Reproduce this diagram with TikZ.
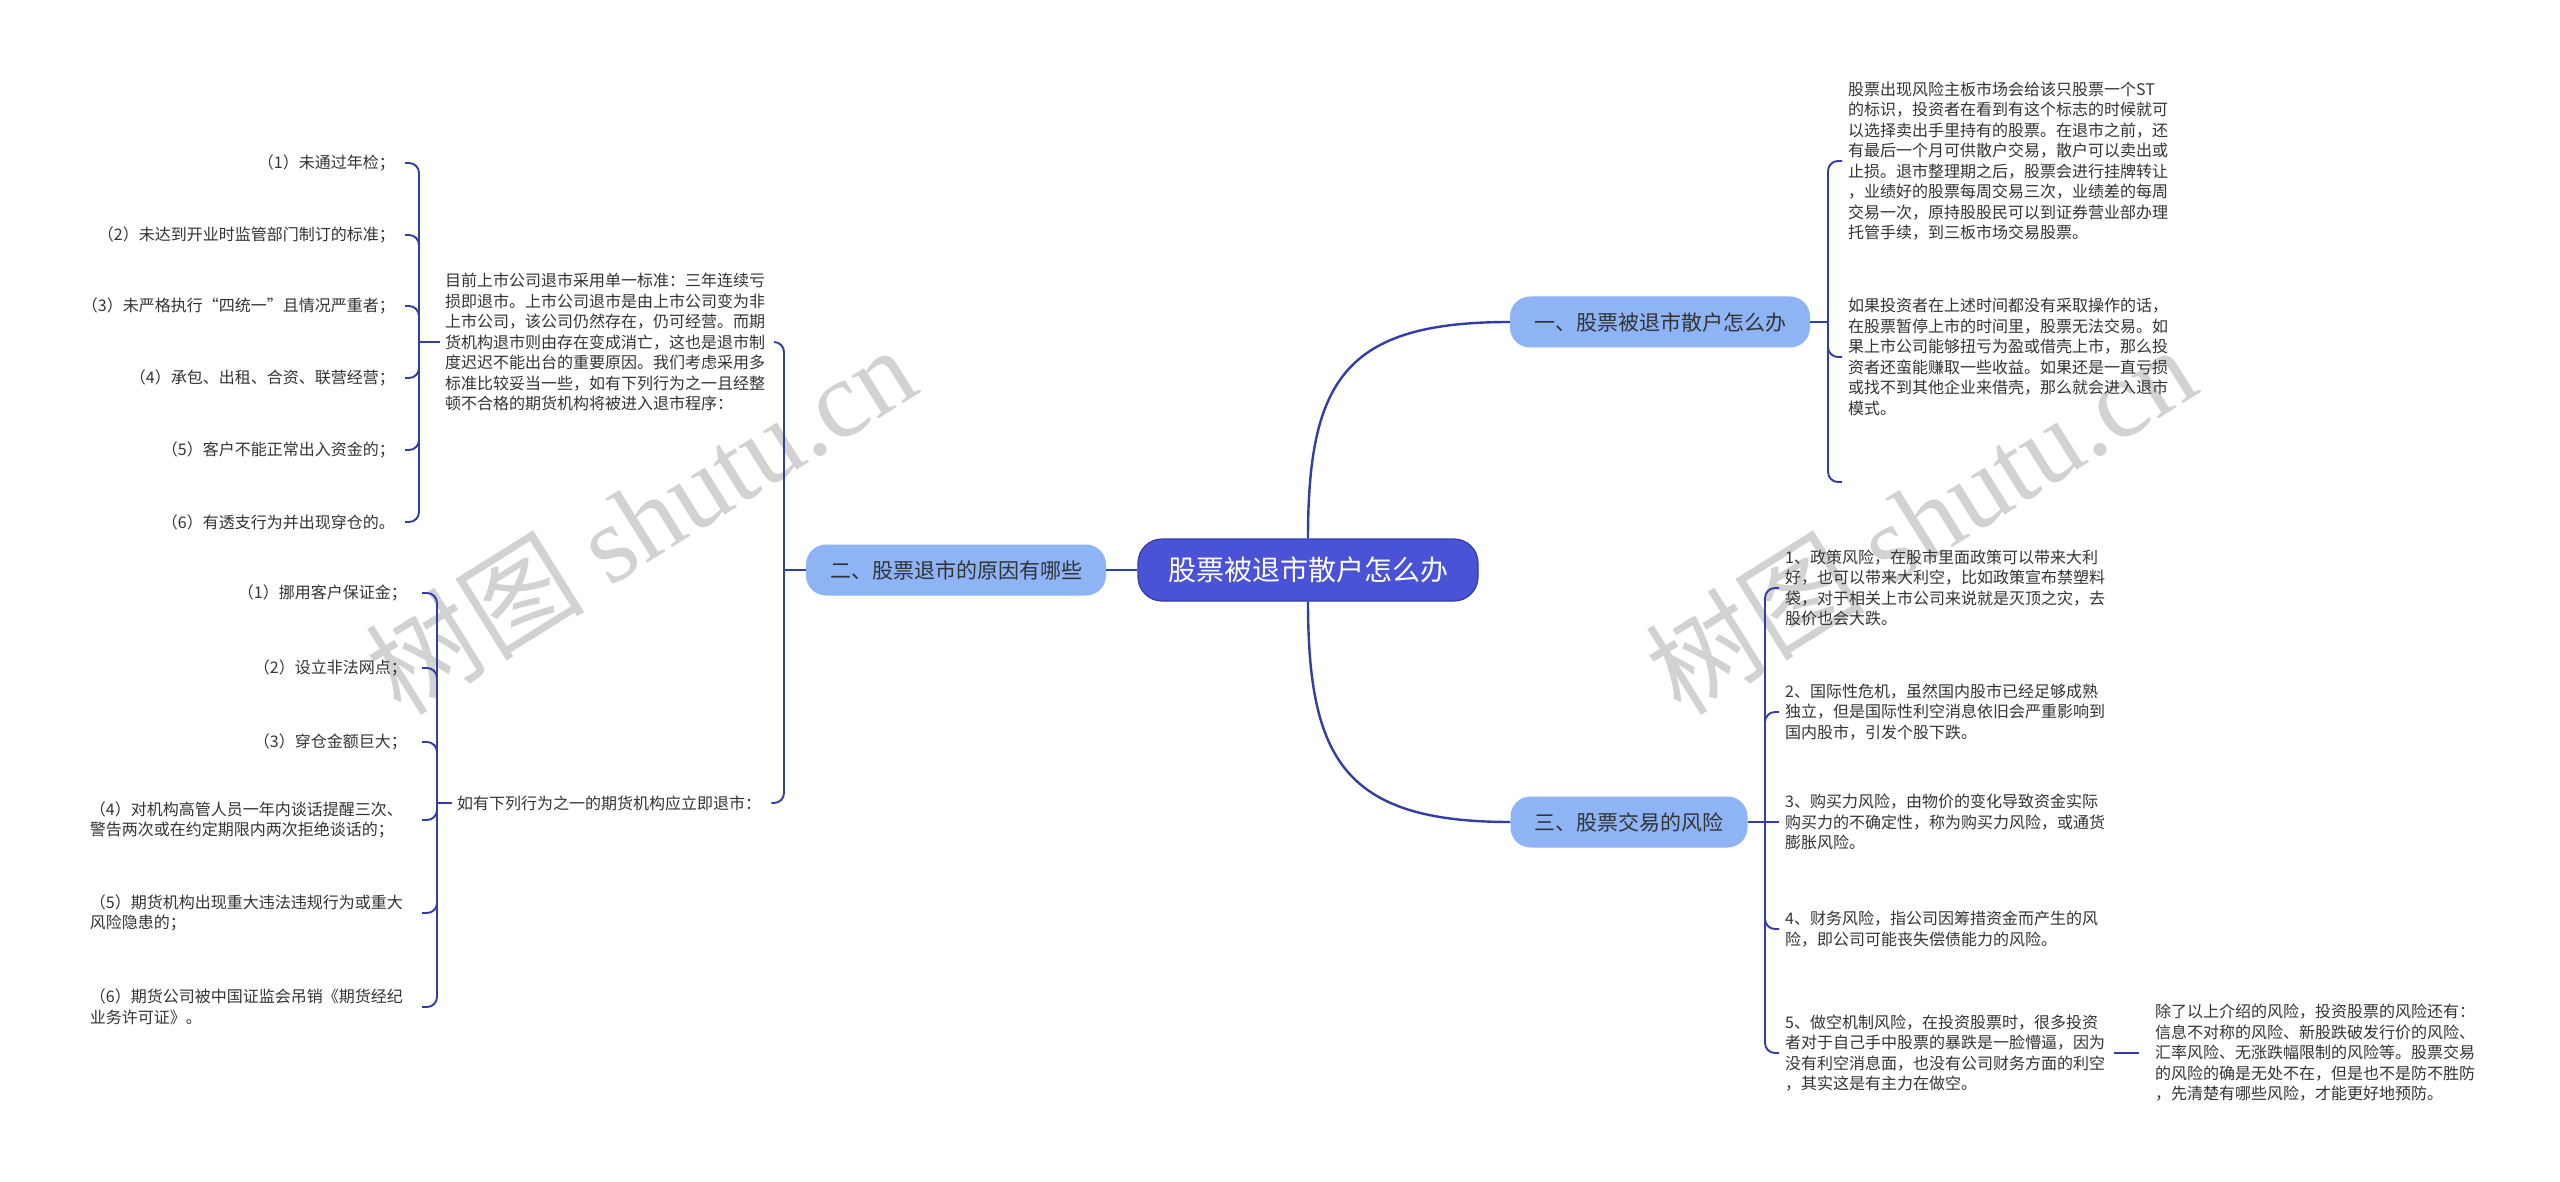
\documentclass[tikz,border=0pt]{standalone}
\usepackage{fontspec}
\setmainfont{Noto Sans CJK SC}
\newfontfamily\wmlatin{Liberation Serif}
\usetikzlibrary{calc}
\definecolor{rootc}{RGB}{74,82,214}
\definecolor{brc}{RGB}{142,180,246}
\definecolor{linec}{RGB}{52,60,165}
\definecolor{txt}{RGB}{51,51,51}
\definecolor{wmc}{RGB}{210,210,210}
\begin{document}
\begin{tikzpicture}[x=1pt,y=-1pt,
  rootbox/.style={fill=rootc, draw=linec, line width=1.2pt, rounded corners=24pt, text=white, font=\fontsize{28}{32}\selectfont, minimum height=62pt, inner xsep=30pt},
  brbox/.style={fill=brc, rounded corners=20pt, text=txt, font=\fontsize{21}{25}\selectfont, minimum height=51pt, inner xsep=24pt},
  leaf/.style={text=txt, font=\fontsize{16}{20.5}\selectfont, inner sep=0pt, align=left},
  mainln/.style={draw=linec, line width=2.4pt},
  subln/.style={draw=linec, line width=1.9pt, rounded corners=10pt},
  wmark/.style={text=wmc, rotate=32, font=\fontsize{110}{110}\selectfont}
]
\useasboundingbox (0,0) rectangle (2560,1182);
\fill[white] (0,0) rectangle (2560,1182);

% watermarks
\node[wmark] (wm1) at (640,519) {树图 {\wmlatin shutu.cn}};
\node[wmark] (wm2) at (1920,519) {树图 {\wmlatin shutu.cn}};

% main nodes
\node[rootbox] (root) at (1308,570) {股票被退市散户怎么办};
\node[brbox] (b1) at (1660,322) {一、股票被退市散户怎么办};
\node[brbox] (b2) at (956,570) {二、股票退市的原因有哪些};
\node[brbox] (b3) at (1629,822) {三、股票交易的风险};

\draw[mainln] (root.north) .. controls (1308,380) and (1345,322) .. (b1.west);
\draw[mainln] (root.south) .. controls (1308,760) and (1345,822) .. (b3.west);
\draw[mainln] (root.west) -- (b2.east);

% branch 1 children
\node[leaf, anchor=west] (t1) at (1848,161) {股票出现风险主板市场会给该只股票一个ST\\的标识，投资者在看到有这个标志的时候就可\\以选择卖出手里持有的股票。在退市之前，还\\有最后一个月可供散户交易，散户可以卖出或\\止损。退市整理期之后，股票会进行挂牌转让\\，业绩好的股票每周交易三次，业绩差的每周\\交易一次，原持股股民可以到证券营业部办理\\托管手续，到三板市场交易股票。};
\node[leaf, anchor=west] (t2) at (1848,357) {如果投资者在上述时间都没有采取操作的话，\\在股票暂停上市的时间里，股票无法交易。如\\果上市公司能够扭亏为盈或借壳上市，那么投\\资者还蛮能赚取一些收益。如果还是一直亏损\\或找不到其他企业来借壳，那么就会进入退市\\模式。};
\coordinate (j1) at (1828,322);
\coordinate (e1) at (1842,482);
\draw[subln] (b1.east) -- (j1);
\draw[subln] (j1) |- ([xshift=-6pt]t1.west);
\draw[subln] (j1) |- ([xshift=-6pt]t2.west);
\draw[subln] (j1) |- (e1);

% branch 3 children
\node[leaf, anchor=west] (r1) at (1785,588) {1、政策风险，在股市里面政策可以带来大利\\好，也可以带来大利空，比如政策宣布禁塑料\\袋，对于相关上市公司来说就是灭顶之灾，去\\股价也会大跌。};
\node[leaf, anchor=west] (r2) at (1785,712) {2、国际性危机，虽然国内股市已经足够成熟\\独立，但是国际性利空消息依旧会严重影响到\\国内股市，引发个股下跌。};
\node[leaf, anchor=west] (r3) at (1785,822) {3、购买力风险，由物价的变化导致资金实际\\购买力的不确定性，称为购买力风险，或通货\\膨胀风险。};
\node[leaf, anchor=west] (r4) at (1785,929) {4、财务风险，指公司因筹措资金而产生的风\\险，即公司可能丧失偿债能力的风险。};
\node[leaf, anchor=west] (r5) at (1785,1053) {5、做空机制风险，在投资股票时，很多投资\\者对于自己手中股票的暴跌是一脸懵逼，因为\\没有利空消息面，也没有公司财务方面的利空\\，其实这是有主力在做空。};
\node[leaf, anchor=west] (r6) at (2155,1053) {除了以上介绍的风险，投资股票的风险还有：\\信息不对称的风险、新股跌破发行价的风险、\\汇率风险、无涨跌幅限制的风险等。股票交易\\的风险的确是无处不在，但是也不是防不胜防\\，先清楚有哪些风险，才能更好地预防。};
\coordinate (j3) at (1765,822);
\draw[subln] (b3.east) -- (j3);
\draw[subln] (j3) |- ([xshift=-6pt]r1.west);
\draw[subln] (j3) |- ([xshift=-6pt]r2.west);
\draw[subln] (j3) -- ([xshift=-6pt]r3.west);
\draw[subln] (j3) |- ([xshift=-6pt]r4.west);
\draw[subln] (j3) |- ([xshift=-6pt]r5.west);
\draw[subln] ([xshift=9pt]r5.east) -- ([xshift=-16pt]r6.west);

% branch 2 children
\node[leaf, anchor=west] (L1) at (445,342) {目前上市公司退市采用单一标准：三年连续亏\\损即退市。上市公司退市是由上市公司变为非\\上市公司，该公司仍然存在，仍可经营。而期\\货机构退市则由存在变成消亡，这也是退市制\\度迟迟不能出台的重要原因。我们考虑采用多\\标准比较妥当一些，如有下列行为之一且经整\\顿不合格的期货机构将被进入退市程序：};
\node[leaf, anchor=west] (L2) at (457,803) {如有下列行为之一的期货机构应立即退市：};
\coordinate (j2) at (784,570);
\draw[subln] (b2.west) -- (j2);
\draw[subln] (j2) |- ([xshift=9pt]L1.east);
\draw[subln] (j2) |- ([xshift=10pt]L2.east);

% L1 children
\node[leaf, anchor=east] (a1) at (395,163) {（1）未通过年检；};
\node[leaf, anchor=east] (a2) at (395,235) {（2）未达到开业时监管部门制订的标准；};
\node[leaf, anchor=east] (a3) at (395,306) {（3）未严格执行“四统一”且情况严重者；};
\node[leaf, anchor=east] (a4) at (395,378) {（4）承包、出租、合资、联营经营；};
\node[leaf, anchor=east] (a5) at (395,450) {（5）客户不能正常出入资金的；};
\node[leaf, anchor=east] (a6) at (395,522) {（6）有透支行为并出现穿仓的。};
\coordinate (j4) at (419,342);
\draw[subln] ([xshift=-5pt]L1.west) -- (j4);
\foreach \c in {a1,a2,a3,a4,a5,a6}{\draw[subln] (j4) |- ([xshift=10pt]\c.east);}

% L2 children
\node[leaf, anchor=east] (c1) at (407,593) {（1）挪用客户保证金；};
\node[leaf, anchor=east] (c2) at (407,668) {（2）设立非法网点；};
\node[leaf, anchor=east] (c3) at (407,742) {（3）穿仓金额巨大；};
\node[leaf, anchor=east] (c4) at (403,820) {（4）对机构高管人员一年内谈话提醒三次、\\警告两次或在约定期限内两次拒绝谈话的；};
\node[leaf, anchor=east] (c5) at (403,913) {（5）期货机构出现重大违法违规行为或重大\\风险隐患的；};
\node[leaf, anchor=east] (c6) at (403,1007) {（6）期货公司被中国证监会吊销《期货经纪\\业务许可证》。};
\coordinate (j5) at (437,803);
\draw[subln] ([xshift=-5pt]L2.west) -- (j5);
\foreach \c in {c1,c2,c3}{\draw[subln] (j5) |- ([xshift=15pt]\c.east);}
\foreach \c in {c4,c5,c6}{\draw[subln] (j5) |- ([xshift=19pt]\c.east);}
\end{tikzpicture}
\end{document}
